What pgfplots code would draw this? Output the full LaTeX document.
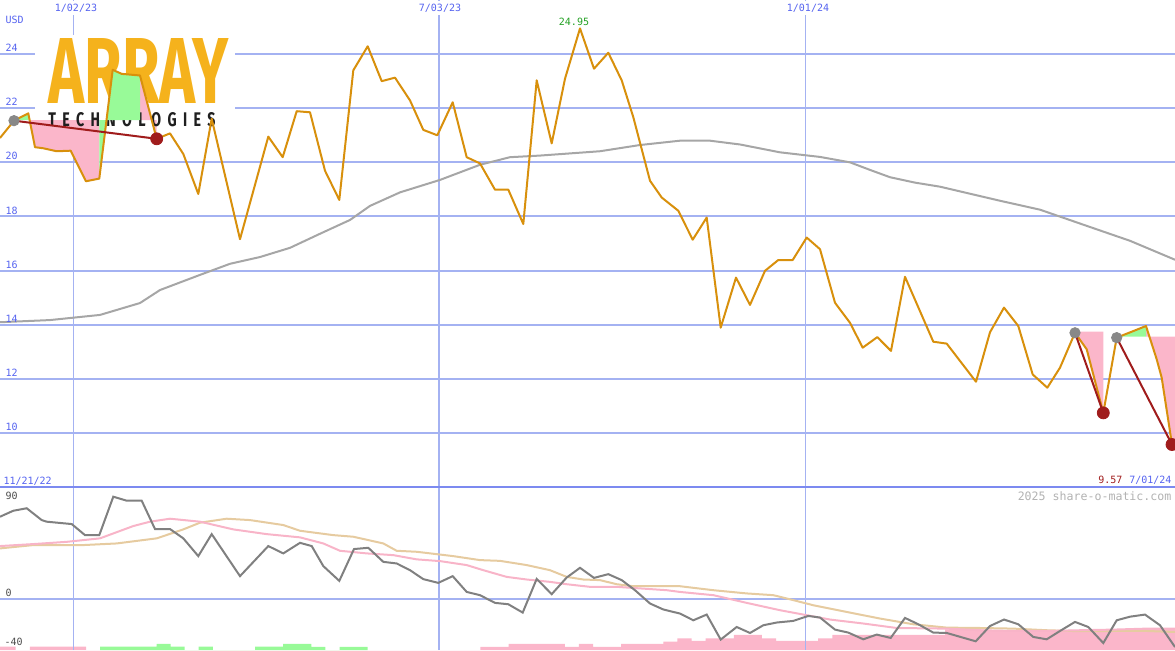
\documentclass[border=0pt]{standalone}
\usepackage{pgfplots}
\pgfplotsset{compat=1.18}
\usepackage{fontspec}
\setmainfont{DejaVu Sans Mono}
\newfontfamily\logofont{Fira Sans}

\definecolor{gridblue}{HTML}{A4B2F2}
\definecolor{divblue}{HTML}{7C8AF0}
\definecolor{lblblue}{HTML}{5563F0}
\definecolor{price}{HTML}{D8900C}
\definecolor{mavg}{HTML}{A6A6A6}
\definecolor{fillpink}{HTML}{FBB6CA}
\definecolor{fillgreen}{HTML}{98FA98}
\definecolor{darkred}{HTML}{A01C1C}
\definecolor{dotgray}{HTML}{888888}
\definecolor{osc}{HTML}{808080}
\definecolor{oscpink}{HTML}{F8B4C8}
\definecolor{osctan}{HTML}{E6CBA0}
\definecolor{logogold}{HTML}{F5B21C}
\definecolor{hiGreen}{HTML}{22A022}

\pgfplotsset{
  panel/.style={scale only axis, width=587.5pt, xmin=0, xmax=1175,
    axis line style={draw=none}, tick style={draw=none},
    xtick=\empty, yticklabels={}, clip=true},
}
\tikzset{lbl/.style={font=\fontsize{5}{6}\selectfont, inner sep=0.6pt}}

\begin{document}
\begin{tikzpicture}
\useasboundingbox (0,0) rectangle (587.5pt,325pt);

% histogram of the lower panel
\begin{axis}[panel, at={(0,0)}, anchor=south west, height=81.5pt,
  ymin=0, ymax=131.1, ytick=\empty]
\addplot[ybar interval, fill=fillpink, draw=none] coordinates {
(-12.5,2.66) (1.6,2.66) (15.7,0) (29.8,2.66) (43.8,2.66) (57.9,2.66) (72,2.66) (86.1,0)
(480.3,2.5) (494.4,2.5) (508.5,4.84) (522.6,4.84) (536.6,4.84) (550.7,4.84) (564.8,2.5)
(578.9,4.84) (593,2.5) (607,2.5) (621.1,4.84) (635.2,4.84) (649.3,4.84) (663.4,6.69)
(677.4,9.43) (691.5,7.25) (705.6,9.43) (719.7,9.43) (733.8,12.1) (747.8,12.1) (761.9,9.43)
(776,7.25) (790.1,7.25) (804.2,7.25) (818.2,9.43) (832.3,12.1) (846.4,12.1) (860.5,12.1)
(874.6,12.1) (888.6,12.1) (902.7,12.1) (916.8,12.1) (930.9,12.1) (945,16.5) (959,16.5)
(973.1,16.5) (987.2,15.5) (1001.3,15.5) (1015.4,15.5) (1029.4,16) (1043.5,16) (1057.6,16)
(1071.7,14.7) (1085.8,16.5) (1099.8,16.5) (1113.9,15.5) (1128,15.5) (1142.1,17)
(1156.2,17) (1170.2,17) (1184.3,0)};
\addplot[ybar interval, fill=fillgreen, draw=none] coordinates {
(100.2,2.66) (114.2,2.66) (128.3,2.66) (142.4,2.66) (156.5,4.84) (170.6,2.66) (184.6,0)
(198.7,2.66) (212.8,0) (255,2.66) (269.1,2.66) (283.2,4.84) (297.3,4.84) (311.4,2.5)
(325.4,0) (339.5,2.5) (353.6,2.5) (367.7,0)};
\end{axis}

% lower panel
\begin{axis}[panel, at={(0,0)}, anchor=south west, height=81.5pt,
  ymin=-41.1, ymax=90, ytick={0}, ymajorgrids, grid style={gridblue, line width=1pt}]
\draw[gridblue, line width=0.5pt] (axis cs:73,-41.1) -- (axis cs:73,90);
\draw[gridblue, line width=1pt] (axis cs:439,-41.1) -- (axis cs:439,90);
\draw[gridblue, line width=0.5pt] (axis cs:805,-41.1) -- (axis cs:805,90);
\addplot[osctan, line width=1pt] coordinates {
(0,40.6) (33.3,43.3) (83.3,43.3) (116.7,44.6) (156.7,48.7) (183.3,55.9) (200,61.3)
(226.7,64.5) (250,63.4) (283.3,59.4) (300,54.8) (333.3,51.3) (353.3,50.0) (383.3,44.6)
(396.7,38.7) (416.7,37.9) (453.3,34.4) (480,31.2) (500,30.6) (526.7,27.2) (550,23.1)
(566.7,17.7) (583.3,15.6) (600,15.1) (616.7,11.8) (633.3,10.2) (680,10.2) (713.3,7.0)
(746.7,4.4) (773.3,3.0) (793.3,-1.0) (813.3,-5.1) (846.7,-10.5) (880,-15.8) (913.3,-20.4)
(946.7,-23.1) (980,-23.4) (1013.3,-23.9) (1046.7,-25.2) (1080,-26.0) (1113.3,-25.8)
(1146.7,-25.8) (1175,-26.6)};
\addplot[oscpink, line width=1pt] coordinates {
(0,42.5) (33.3,44.1) (66.7,45.9) (100,48.7) (133.3,58.6) (150,62.1) (170,64.5) (200,62.1)
(233.3,55.9) (266.7,52.1) (300,49.5) (323.3,44.6) (340,38.7) (366.7,36.6) (393.3,35.2)
(416.7,31.8) (440,30.4) (466.7,27.2) (483.3,23.1) (506.7,17.7) (526.7,15.6) (550,13.7)
(566.7,11.8) (590,9.7) (616.7,9.7) (666.7,7.0) (680,5.6) (713.3,3.0) (746.7,-3.2)
(780,-9.1) (806.7,-13.1) (830,-16.6) (863.3,-19.8) (896.7,-23.4) (946.7,-23.9)
(980,-25.2) (1013.3,-25.8) (1046.7,-25.8) (1080,-25.2) (1113.3,-24.7) (1146.7,-23.9)
(1175,-23.9)};
\addplot[osc, line width=1pt] coordinates {
(0,66.1) (13.3,70.9) (26.7,72.9) (41.7,63.4) (46.7,62.1) (71.7,60.2) (85,51.3) (99.3,51.3)
(113.3,82.2) (126.7,79.0) (141.7,79.0) (155,56.2) (170,56.2) (183.3,48.7) (198.3,34.4)
(211.7,52.1) (240,18.3) (268.3,42.5) (283.3,36.6) (300,45.1) (311.7,42.5) (323.3,26.4)
(339.3,14.5) (354,40.1) (368.3,41.1) (383.3,29.8) (396.7,28.5) (410,23.1) (423.3,15.9)
(438.3,12.9) (452.7,18.3) (466.7,5.6) (480,3.0) (495,-3.2) (508.3,-4.3) (522.7,-11.0)
(536.7,16.1) (551.7,3.8) (566.7,17.2) (580,25.0) (594,16.9) (608.3,19.9) (621.7,15.1)
(635,7.0) (650,-3.7) (663.3,-8.5) (680,-11.8) (693.3,-17.2) (706.7,-12.6) (720.7,-32.7)
(736.7,-22.6) (750,-27.4) (763.3,-21.2) (776.7,-19.0) (793.3,-17.7) (808.3,-13.7)
(820,-15.0) (835,-24.7) (848.3,-27.1) (863.3,-32.5) (876.7,-28.7) (890.7,-31.4)
(905,-15.3) (918.3,-20.4) (933.3,-27.1) (946.7,-27.4) (975.7,-34.1) (990,-21.8)
(1004,-16.6) (1018.3,-20.4) (1033.3,-30.6) (1046.7,-32.5) (1060,-25.8) (1075,-18.5)
(1088.3,-22.6) (1103.3,-35.5) (1116.7,-17.2) (1130,-14.3) (1145,-12.6) (1160,-21.2)
(1175,-38.7)};
\node[lbl, text=black!70, anchor=west] at (axis cs:4,82.8) {90};
\node[lbl, text=black!70, anchor=west] at (axis cs:4,4.6) {0};
\node[lbl, text=black!70, anchor=west] at (axis cs:3,-34.5) {-40};
\node[lbl, font=\fontsize{5.8}{7}\selectfont, text=black!30, anchor=east] at (axis cs:1173,82.8) {2025 share-o-matic.com};
\end{axis}

% upper panel
\begin{axis}[panel, at={(0,81.5pt)}, anchor=south west, height=243.5pt,
  ymin=8, ymax=26, ytick={10,12,...,24}, ymajorgrids, grid style={gridblue, line width=1pt}]
\draw[gridblue, line width=0.5pt] (axis cs:73,8) -- (axis cs:73,26);
\draw[gridblue, line width=1pt] (axis cs:439,8) -- (axis cs:439,26);
\draw[gridblue, line width=0.5pt] (axis cs:805,8) -- (axis cs:805,26);
% logo background
\fill[white] (axis cs:35,24.69) rectangle (axis cs:235,20.62);
% moving average
\addplot[mavg, line width=1pt] coordinates {
(0,14.09) (50,14.17) (100,14.36) (140,14.80) (160,15.28) (200,15.84) (230,16.25)
(260,16.50) (290,16.84) (320,17.36) (350,17.87) (370,18.39) (400,18.89) (440,19.35)
(480,19.91) (510,20.19) (540,20.25) (600,20.41) (640,20.64) (680,20.80) (710,20.80)
(740,20.66) (780,20.37) (820,20.2) (850,20.0) (870,19.72) (890,19.45) (915,19.25)
(940,19.10) (1000,18.58) (1040,18.25) (1090,17.61) (1130,17.10) (1175,16.40)};
% highlight areas below the price
\addplot[fill=fillpink, draw=none] coordinates {(28.3,21.56) (28.3,21.81) (35,20.56) (43.3,20.52)
  (56.7,20.41) (70.7,20.43) (86,19.30) (99.3,19.40) (99.3,21.56)} -- cycle;
\addplot[fill=fillpink, draw=none] coordinates {(140,21.56) (140,23.21) (156.7,20.87) (156.7,21.56)} -- cycle;
\addplot[fill=fillpink, draw=none] coordinates {(1075,13.74) (1075,13.70) (1086.7,13.09)
  (1103.3,10.74) (1103.3,13.74)} -- cycle;
\addplot[fill=fillpink, draw=none] coordinates {(1146,13.56) (1146,13.95) (1156.7,12.72)
  (1161.7,12.04) (1172,9.57) (1175,9.45) (1175,13.56)} -- cycle;
% logo
\node[anchor=north west, inner sep=0, text=logogold] at (axis cs:48,24.58)
  {\resizebox{90pt}{32.5pt}{\logofont\bfseries ARRAY}};
\node[anchor=north west, inner sep=0, text=black!88] at (axis cs:48,21.84)
  {\resizebox{83.5pt}{7pt}{\logofont\addfontfeature{LetterSpace=45}\bfseries TECHNOLOGIES}};
% highlight areas above the price
\addplot[fill=fillgreen, draw=none] coordinates {(14,21.56) (14,21.54) (28.3,21.81) (28.3,21.56)} -- cycle;
\addplot[fill=fillgreen, draw=none] coordinates {(99.3,21.56) (99.3,19.40) (112.7,23.42)
  (121.7,23.27) (140,23.21) (140,21.56)} -- cycle;
\addplot[fill=fillgreen, draw=none] coordinates {(1116.7,13.56) (1116.7,13.52) (1146,13.95) (1146,13.56)} -- cycle;
% price
\addplot[price, line width=1pt, line join=round] coordinates {
(0,20.90) (14,21.54) (28.3,21.81) (35,20.56) (43.3,20.52) (56.7,20.41) (70.7,20.43)
(86,19.30) (99.3,19.40) (112.7,23.42) (121.7,23.27) (140,23.21) (156.7,20.87) (170,21.07)
(183.3,20.31) (198.3,18.83) (211.7,21.61) (240,17.16) (268.3,20.95) (282.7,20.19)
(296.7,21.89) (310,21.85) (325,19.69) (339.3,18.61) (353.3,23.40) (367.7,24.29)
(381.7,23.00) (395,23.13) (410,22.29) (423.3,21.20) (437.3,21.00) (452.7,22.22)
(466.7,20.19) (480,19.96) (495,18.99) (508.3,18.99) (523.3,17.72) (536.7,23.03)
(551.7,20.70) (565,23.09) (580,24.95) (594,23.46) (608.3,24.05) (621.7,23.03)
(633.3,21.67) (650,19.32) (661.7,18.70) (678.3,18.21) (692.7,17.14) (706.7,17.96)
(720.7,13.89) (736,15.74) (750,14.73) (765,15.99) (778.3,16.39) (792.7,16.39)
(806.7,17.22) (820,16.79) (835,14.81) (850,14.07) (862.7,13.15) (877.3,13.54)
(891,13.03) (905,15.77) (933.3,13.37) (946.7,13.30) (976,11.89) (990,13.72)
(1004,14.63) (1018.3,13.95) (1032.7,12.16) (1047.3,11.67) (1060,12.41) (1075,13.70)
(1086.7,13.09) (1103.3,10.74) (1116.7,13.52) (1146,13.95) (1156.7,12.72) (1161.7,12.04)
(1172,9.57)};
% pattern lines and dots
\addplot[darkred, line width=1pt] coordinates {(14,21.54) (156.7,20.87)};
\addplot[darkred, line width=1pt] coordinates {(1075,13.70) (1103.3,10.74)};
\addplot[darkred, line width=1pt] coordinates {(1116.7,13.52) (1172,9.57)};
\addplot[only marks, mark=*, mark size=2.6pt, dotgray] coordinates {(14,21.54) (1075,13.70) (1116.7,13.52)};
\addplot[only marks, mark=*, mark size=3pt, darkred] coordinates {(156.7,20.87) (1103.3,10.74) (1172,9.57)};
% labels
\node[lbl, text=lblblue, anchor=west] at (axis cs:4,25.25) {USD};
\pgfplotsinvokeforeach{10,12,14,16,18,20,22,24}{
  \node[lbl, text=lblblue, anchor=base west] at (axis cs:4,#1) [yshift=1.2pt] {#1};
}
\node[lbl, text=lblblue, fill=white, inner sep=1.4pt] at (axis cs:76,25.69) {1/02/23};
\node[lbl, text=lblblue, fill=white, inner sep=1.4pt] at (axis cs:440,25.69) {7/03/23};
\node[lbl, text=lblblue, fill=white, inner sep=1.4pt] at (axis cs:808,25.69) {1/01/24};
\node[lbl, text=hiGreen] at (axis cs:574,25.2) {24.95};
\node[lbl, text=lblblue, anchor=west] at (axis cs:2,8.2) {11/21/22};
\node[lbl, text=darkred, anchor=east] at (axis cs:1124,8.25) {9.57};
\node[lbl, text=lblblue, anchor=east] at (axis cs:1173,8.25) {7/01/24};
\end{axis}
\draw[divblue, line width=1pt] (0,81.5pt) -- (587.5pt,81.5pt);
\end{tikzpicture}
\end{document}
